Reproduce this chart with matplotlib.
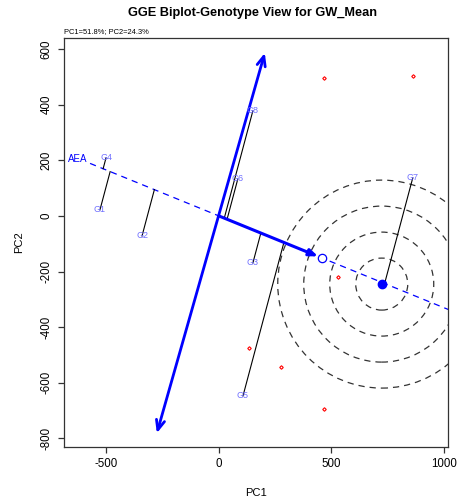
import numpy as np
import matplotlib
matplotlib.use("Agg")
from matplotlib import pyplot as plt
from matplotlib.patches import Ellipse

plt.rcParams['font.family'] = ['Liberation Sans', 'DejaVu Sans']
plt.rcParams['axes.unicode_minus'] = False

# genotype scores (PC1, PC2)
genotypes = ["G1", "G2", "G3", "G4", "G5", "G6", "G7", "G8"]
gen_pc1 = [-529, -342, 151, -502, 107, 84, 862, 151]
gen_pc2 = [22, -72, -169, 209, -647, 133, 137, 378]

# environment scores (red points)
env_pc1 = [467, 862, 529, 276, 467, 133]
env_pc2 = [496, 504, -219, -543, -694, -475]

# average environment and ideal genotype
aea_point = [458, -151]
ideal_point = [724, -245]
aea_label_pos = [-573, 194]
# ATC ordinate ends
ordinate_top = [204, 586]
ordinate_bottom = [-276, -781]

fig = plt.figure(figsize=(4.57, 4.99), dpi=100)
ax = fig.add_axes([0.140, 0.104, 0.840, 0.820])
ax.set_xlim(-689, 1018)
ax.set_ylim(-831, 640)

# AEA direction
u = np.array(aea_point, dtype=float)
u = u / np.linalg.norm(u)
slope = u[1] / u[0]

# dashed AEA line
x_line = np.array([aea_label_pos[0], 1100])
ax.plot(x_line, slope * x_line, color='blue', ls=(0, (5, 4)), lw=0.9)
ax.text(aea_label_pos[0] - 10, aea_label_pos[1] + 12, "AEA", color='blue',
        fontsize=7, ha='right', va='center')

# concentric circles around the ideal point (circular on screen)
fig.canvas.draw()
px_per_x = ax.transData.transform((1, 0))[0] - ax.transData.transform((0, 0))[0]
px_per_y = ax.transData.transform((0, 1))[1] - ax.transData.transform((0, 0))[1]
for r in [26, 52, 78, 104]:
    e = Ellipse(ideal_point, 2 * r / px_per_x, 2 * r / px_per_y,
                fill=False, ls=(0, (5, 4)), lw=0.9, ec='#333333')
    ax.add_patch(e)

# projection lines genotype -> AEA
for gx, gy in zip(gen_pc1, gen_pc2):
    d = gx * u[0] + gy * u[1]
    ax.plot([gx, d * u[0]], [gy, d * u[1]], color='black', lw=0.8)

# ordinate double arrow
ax.annotate('', xy=ordinate_top, xytext=ordinate_bottom,
            arrowprops=dict(arrowstyle='<->,head_length=0.7,head_width=0.3',
                            color='blue', lw=2, shrinkA=0, shrinkB=0))

# AEA arrow
ax.annotate('', xy=aea_point, xytext=(0, 0),
            arrowprops=dict(arrowstyle='-|>,head_length=0.5,head_width=0.2',
                            color='blue', lw=2.2, shrinkA=0, shrinkB=3))
ax.plot(*aea_point, 'o', ms=6, mfc='white', mec='blue', mew=0.9)
ax.plot(*ideal_point, 'o', ms=6, color='blue')

# environments
ax.plot(env_pc1, env_pc2, 'D', ms=1.8, mfc='none', mec='red', mew=0.8, ls='none')

# genotype labels
for name, gx, gy in zip(genotypes, gen_pc1, gen_pc2):
    ax.text(gx, gy, name, color='#6f6fff', fontsize=6.5, ha='center', va='center')

ax.set_xticks([-500, 0, 500, 1000])
ax.set_yticks([-800, -600, -400, -200, 0, 200, 400, 600])
ax.tick_params(labelsize=8.3, length=4.5, width=0.9, color='#333333')
ax.tick_params(axis='y', labelrotation=90)
for lab in ax.get_yticklabels():
    lab.set_va('center')
for s in ax.spines.values():
    s.set_color('#333333')
    s.set_linewidth(0.9)

ax.set_xlabel("PC1", fontsize=8, labelpad=13)
ax.set_ylabel("PC2", fontsize=8, labelpad=12)
fig.text(0.553, 0.973, "GGE Biplot-Genotype View for GW_Mean", fontsize=9.2,
         fontweight='bold', ha='center', va='center')
fig.text(0.140, 0.936, "PC1=51.8%; PC2=24.3%", fontsize=5.4, ha='left', va='center')

fig.savefig("out.png", dpi=100)
